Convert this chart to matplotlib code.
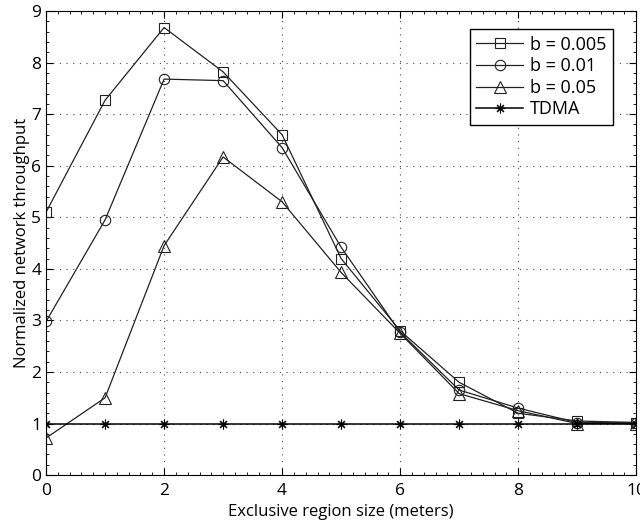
import numpy as np
import matplotlib.pyplot as plt
from matplotlib.ticker import MultipleLocator

plt.rcParams['font.family'] = ['Open Sans', 'DejaVu Sans']

x = [0, 1, 2, 3, 4, 5, 6, 7, 8, 9, 10]
b005 = [5.1, 7.27, 8.68, 7.82, 6.6, 4.2, 2.8, 1.8, 1.2, 1.05, 1.02]
b01 = [2.98, 4.95, 7.68, 7.65, 6.35, 4.42, 2.77, 1.65, 1.3, 1.02, 1.02]
b05 = [0.72, 1.5, 4.45, 6.17, 5.3, 3.93, 2.75, 1.58, 1.25, 1.0, 1.0]
tdma = [1, 1, 1, 1, 1, 1, 1, 1, 1, 1, 1]

fig = plt.figure(figsize=(6.4, 5.25), dpi=100)
ax = fig.add_axes([0.072, 0.095, 0.922, 0.884])

kw = dict(color='#222222', lw=0.9, mfc='none', mec='#222222', mew=0.8)
ax.plot(x, b005, marker='s', ms=6.5, label='b = 0.005', **kw)
ax.plot(x, b01, marker='o', ms=7.5, label='b = 0.01', **kw)
ax.plot(x, b05, marker='^', ms=8, label='b = 0.05', **kw)
ax.plot(x, tdma, marker=(8, 2, 0), ms=7, label='TDMA', color='black', lw=1.1,
        mfc='none', mec='black', mew=0.8)

ax.set_xlim(0, 10)
ax.set_ylim(0, 9)
ax.xaxis.set_major_locator(MultipleLocator(2))
ax.yaxis.set_major_locator(MultipleLocator(1))
ax.xaxis.set_minor_locator(MultipleLocator(0.2))
ax.yaxis.set_minor_locator(MultipleLocator(0.2))
ax.tick_params(which='both', direction='in', top=True, right=True, labelsize=12.5)
ax.tick_params(which='major', length=5)
ax.tick_params(which='minor', length=2.5)
ax.tick_params(axis='x', pad=6)
ax.grid(True, which='major', color='#444444', linestyle=(0, (1, 5)), lw=0.8)
for s in ax.spines.values():
    s.set_linewidth(0.8)

ax.set_xlabel('Exclusive region size (meters)', fontsize=12, labelpad=3)
ax.set_ylabel('Normalized network throughput', fontsize=12, labelpad=1)

leg = ax.legend(loc='upper right', bbox_to_anchor=(0.976, 0.98), fontsize=13,
                fancybox=False, framealpha=1, edgecolor='black',
                handlelength=2.6, borderpad=0.35, labelspacing=0.2,
                handletextpad=0.4)
leg.get_frame().set_linewidth(1.0)

fig.savefig('out.png', dpi=100)
